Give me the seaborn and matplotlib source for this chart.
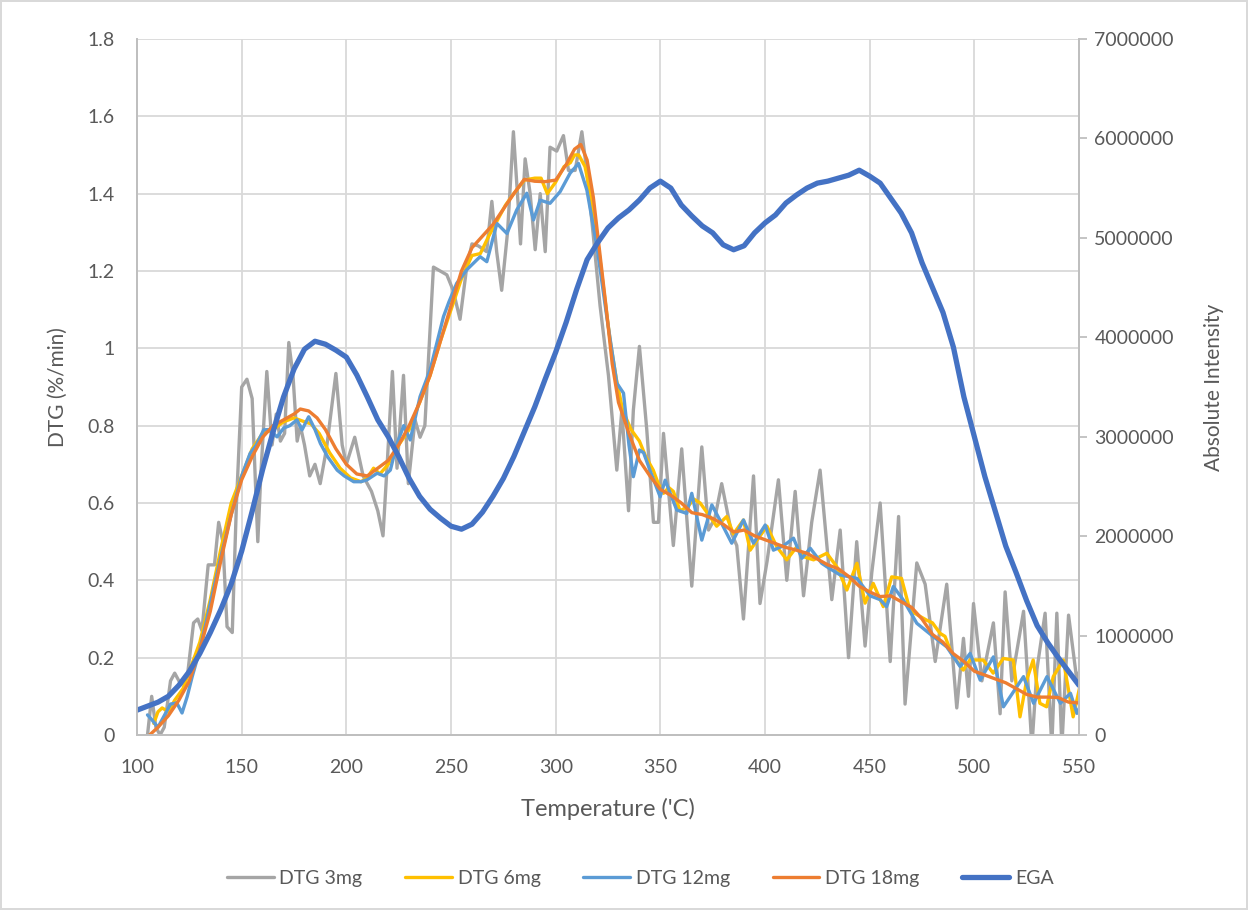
import pandas as pd
import matplotlib.pyplot as plt
import seaborn as sns

# ---- data ----
t_3mg = [105, 107, 109, 111, 113, 116, 118, 121, 124, 127, 129, 131, 134, 137, 139, 141, 143, 145.5, 147.5,
         150, 152.5, 155, 156.5, 157.7, 159.2, 162, 164.5, 166.5, 168.5, 170.5, 172.5, 174.5, 176.5, 178, 180,
         182.5, 185, 187.5, 190.5, 195, 198, 200, 204, 208, 212, 215, 217.5, 219.5, 222, 224.2, 227.3, 229.6,
         232.8, 235.2, 237.5, 239.5, 241.6, 244.8, 248, 251, 254.3, 257.5, 260, 263, 267, 269.5, 271.8, 274.2,
         277, 279.8, 282.2, 283.2, 285.4, 287.8, 290.2, 292.6, 295, 297.3, 300.5, 303.7, 306.1, 309.3, 312.5,
         314.8, 318, 321.2, 325.2, 329.2, 331.6, 334.8, 337.1, 340, 343.5, 346.7, 349.1, 351.5, 356.2, 360.2,
         365, 369.8, 373, 376, 379.3, 384.1, 386.5, 389.7, 394.5, 397.6, 401, 406.4, 410.4, 414.4, 418.4,
         422.3, 426.3, 431.9, 435.9, 439.9, 443.8, 447.8, 451, 455, 459.8, 463.8, 466.9, 472.5, 476.5, 481.3,
         486.8, 491.6, 494.8, 497.2, 499.6, 503.6, 509.1, 512.3, 514.7, 517.9, 523.5, 527.5, 529.9, 533.8,
         537, 539.4, 541.8, 545, 549, 551]
v_3mg = [0.00, 0.10, 0.02, 0.00, 0.02, 0.14, 0.16, 0.13, 0.15, 0.29, 0.30, 0.27, 0.44, 0.44, 0.55, 0.50, 0.28,
         0.265, 0.60, 0.90, 0.92, 0.87, 0.66, 0.50, 0.68, 0.94, 0.75, 0.83, 0.76, 0.78, 1.015, 0.93, 0.76, 0.80,
         0.75, 0.67, 0.70, 0.65, 0.74, 0.935, 0.75, 0.70, 0.77, 0.67, 0.63, 0.58, 0.515, 0.70, 0.94, 0.69, 0.93,
         0.65, 0.815, 0.77, 0.80, 1.00, 1.21, 1.20, 1.19, 1.15, 1.075, 1.21, 1.27, 1.265, 1.25, 1.38, 1.25, 1.15,
         1.30, 1.56, 1.36, 1.27, 1.49, 1.40, 1.255, 1.40, 1.25, 1.52, 1.51, 1.55, 1.46, 1.46, 1.56, 1.46, 1.29,
         1.11, 0.93, 0.685, 0.84, 0.58, 0.84, 1.005, 0.79, 0.55, 0.55, 0.78, 0.49, 0.74, 0.385, 0.745, 0.53,
         0.56, 0.65, 0.52, 0.49, 0.30, 0.67, 0.34, 0.45, 0.66, 0.40, 0.63, 0.36, 0.55, 0.685, 0.35, 0.53, 0.20,
         0.50, 0.23, 0.42, 0.60, 0.19, 0.565, 0.08, 0.445, 0.39, 0.19, 0.39, 0.07, 0.25, 0.10, 0.34, 0.14, 0.29,
         0.055, 0.37, 0.14, 0.32, -0.03, 0.17, 0.315, -0.03, 0.315, -0.03, 0.31, 0.14, 0.18]

t_6mg = [108, 110, 112, 115, 118, 122, 126, 130, 135, 140, 145, 150, 155, 160, 165, 170, 175, 180, 183, 187,
         192, 197, 202, 207, 210, 213, 216, 220, 225, 230, 235, 240, 245, 250, 255, 260, 264, 268, 272, 276,
         280, 285, 290, 293, 296, 300, 304, 307, 309, 311, 314, 317, 320, 323, 326, 329, 332, 336, 340, 343,
         346.6, 349, 351.5, 354, 356.2, 359.4, 363, 366, 369, 373, 376.9, 381.7, 384.9, 389.7, 392.9, 397,
         400.9, 405.6, 410.4, 415.2, 418.4, 423.2, 429.5, 434.3, 439.1, 443.9, 447.8, 451.7, 456.5, 460.5,
         465.2, 469.2, 473, 477.2, 480, 483.6, 486, 489.1, 494.7, 497.9, 504.2, 509, 513.8, 518.6, 521.8, 525,
         528.1, 531.3, 534.5, 537.7, 542.5, 547.2, 550.4]
v_6mg = [0.03, 0.06, 0.07, 0.06, 0.09, 0.12, 0.18, 0.24, 0.35, 0.48, 0.60, 0.67, 0.74, 0.78, 0.79, 0.81, 0.82,
         0.81, 0.805, 0.78, 0.73, 0.69, 0.665, 0.655, 0.665, 0.69, 0.675, 0.70, 0.75, 0.79, 0.86, 0.93, 1.02,
         1.10, 1.18, 1.24, 1.245, 1.29, 1.33, 1.37, 1.40, 1.435, 1.44, 1.44, 1.40, 1.43, 1.47, 1.48, 1.50, 1.50,
         1.47, 1.39, 1.28, 1.15, 1.02, 0.92, 0.84, 0.79, 0.76, 0.72, 0.685, 0.65, 0.625, 0.64, 0.63, 0.58, 0.59,
         0.61, 0.60, 0.57, 0.54, 0.565, 0.52, 0.556, 0.478, 0.51, 0.54, 0.487, 0.453, 0.487, 0.461, 0.453,
         0.47, 0.435, 0.375, 0.444, 0.341, 0.392, 0.332, 0.409, 0.405, 0.323, 0.31, 0.297, 0.29, 0.263, 0.255,
         0.211, 0.168, 0.194, 0.194, 0.160, 0.198, 0.194, 0.047, 0.142, 0.194, 0.082, 0.073, 0.151, 0.194,
         0.047, 0.125]

t_12mg = [105, 107, 110, 113, 116, 119, 121.5, 124, 126.3, 130, 135, 140, 145, 150, 154, 157, 160.5, 163,
          166.9, 170.1, 173, 176.4, 178.8, 182, 185, 187.6, 191, 195.6, 199, 203.5, 207, 209.9, 214.7, 218, 221,
          224, 227.4, 230.5, 235.2, 240, 246.4, 249, 252.7, 257.5, 263.9, 267.1, 271.9, 276.7, 281.4, 286.2,
          289.4, 292.6, 297.3, 302.1, 306.9, 310.9, 314.9, 319.7, 324.4, 329.2, 332.4, 335, 337.1, 340, 342,
          345, 349.9, 352.3, 357.8, 362.6, 365, 369.8, 374.6, 379, 384.1, 389.7, 394.5, 400.1, 404, 409, 413.6,
          417.6, 421.6, 427.1, 431, 435.9, 443.9, 450.2, 455, 458.1, 461.3, 466.1, 472.5, 480.5, 486.8, 493.2,
          498, 502.8, 509.1, 513.9, 520.3, 523.5, 528.3, 534.7, 541.1, 545.9, 549, 551]
v_12mg = [0.052, 0.04, 0.02, 0.05, 0.08, 0.083, 0.057, 0.10, 0.15, 0.22, 0.34, 0.46, 0.57, 0.67, 0.728, 0.75,
          0.789, 0.79, 0.771, 0.794, 0.80, 0.815, 0.789, 0.823, 0.79, 0.754, 0.72, 0.685, 0.67, 0.655, 0.655,
          0.66, 0.677, 0.67, 0.685, 0.75, 0.80, 0.763, 0.875, 0.944, 1.082, 1.12, 1.168, 1.203, 1.237, 1.224,
          1.323, 1.297, 1.358, 1.401, 1.332, 1.383, 1.375, 1.405, 1.453, 1.478, 1.409, 1.263, 1.082, 0.91,
          0.884, 0.75, 0.668, 0.737, 0.73, 0.685, 0.616, 0.659, 0.582, 0.573, 0.625, 0.504, 0.595, 0.55, 0.496,
          0.556, 0.496, 0.543, 0.478, 0.49, 0.509, 0.457, 0.483, 0.444, 0.43, 0.414, 0.405, 0.36, 0.35, 0.332,
          0.384, 0.349, 0.289, 0.254, 0.228, 0.177, 0.211, 0.142, 0.202, 0.073, 0.125, 0.151, 0.082, 0.151,
          0.082, 0.108, 0.056, 0.08]

t_18mg = [106, 110, 115, 120, 125, 130, 135, 140, 145, 150, 155, 160, 165, 170, 175, 178, 182, 186, 190, 195,
          200, 205, 210, 215, 220, 225, 230, 235, 240, 245, 250, 255, 260, 265, 270, 275, 280, 285, 290, 295,
          300, 305, 309, 312, 315, 318, 321, 324, 327, 330, 335, 340, 345, 350, 355, 360, 365, 370, 375, 380,
          385, 390, 395, 400, 405, 410, 415, 420, 425, 430, 435, 440, 445, 450, 455, 460, 465, 470, 475, 480,
          485, 490, 495, 500, 505, 510, 515, 520, 525, 530, 535, 540, 545, 550]
v_18mg = [0.00, 0.02, 0.05, 0.09, 0.14, 0.22, 0.32, 0.45, 0.57, 0.66, 0.72, 0.77, 0.80, 0.815, 0.83, 0.843,
          0.838, 0.82, 0.79, 0.74, 0.70, 0.675, 0.67, 0.69, 0.71, 0.75, 0.80, 0.86, 0.93, 1.02, 1.11, 1.20, 1.26,
          1.29, 1.32, 1.36, 1.40, 1.437, 1.432, 1.431, 1.435, 1.475, 1.515, 1.527, 1.487, 1.39, 1.25, 1.11,
          0.96, 0.86, 0.78, 0.71, 0.67, 0.635, 0.62, 0.60, 0.575, 0.57, 0.56, 0.545, 0.525, 0.53, 0.515, 0.505,
          0.495, 0.485, 0.478, 0.47, 0.455, 0.44, 0.43, 0.41, 0.385, 0.37, 0.358, 0.36, 0.345, 0.33, 0.30, 0.26,
          0.24, 0.21, 0.19, 0.165, 0.155, 0.145, 0.135, 0.12, 0.105, 0.098, 0.098, 0.097, 0.085, 0.083]

t_ega = list(range(100, 555, 5))
v_ega = [0.25, 0.29, 0.33, 0.39, 0.50, 0.64, 0.82, 1.03, 1.26, 1.52, 1.85, 2.25, 2.67, 3.05, 3.40, 3.68, 3.88,
         3.96, 3.93, 3.87, 3.80, 3.62, 3.40, 3.17, 3.00, 2.80, 2.58, 2.40, 2.27, 2.18, 2.10, 2.07, 2.12, 2.24,
         2.40, 2.58, 2.80, 3.05, 3.30, 3.58, 3.85, 4.15, 4.48, 4.78, 4.95, 5.10, 5.20, 5.28, 5.38, 5.50, 5.57,
         5.50, 5.33, 5.22, 5.12, 5.05, 4.93, 4.88, 4.92, 5.05, 5.15, 5.23, 5.35, 5.43, 5.50, 5.55, 5.57, 5.60,
         5.63, 5.68, 5.62, 5.55, 5.40, 5.25, 5.05, 4.75, 4.50, 4.25, 3.90, 3.40, 3.00, 2.60, 2.25, 1.90, 1.63,
         1.35, 1.10, 0.93, 0.78, 0.64, 0.50]  # millions

series = [("DTG 3mg", t_3mg, v_3mg, "#A5A5A5"),
          ("DTG 6mg", t_6mg, v_6mg, "#FFC000"),
          ("DTG 12mg", t_12mg, v_12mg, "#5B9BD5"),
          ("DTG 18mg", t_18mg, v_18mg, "#ED7D31")]

sns.set_theme(style="white")
plt.rcParams['font.family'] = ['Lato', 'DejaVu Sans']
txt = "#595959"
grid = "#D9D9D9"

fig = plt.figure(figsize=(12.48, 9.10), dpi=100, edgecolor=grid, linewidth=1.5)
ax = fig.add_axes([0.1098, 0.1923, 0.7548, 0.7649])
ax2 = ax.twinx()

for name, t, v, col in series:
    df = pd.DataFrame({"T": t, "v": v})
    sns.lineplot(data=df, x="T", y="v", ax=ax, color=col, linewidth=2.4, sort=False, label=name, legend=False)

df_ega = pd.DataFrame({"T": t_ega, "v": [x * 1e6 for x in v_ega]})
sns.lineplot(data=df_ega, x="T", y="v", ax=ax2, color="#4472C4", linewidth=3.8, sort=False, label="EGA", legend=False)

ax.set_xlim(100, 550)
ax.set_ylim(0, 1.8)
ax2.set_ylim(0, 7000000)
ax.set_xticks(range(100, 551, 50))
ax.set_yticks([0, 0.2, 0.4, 0.6, 0.8, 1, 1.2, 1.4, 1.6, 1.8])
ax.set_yticklabels(["0", "0.2", "0.4", "0.6", "0.8", "1", "1.2", "1.4", "1.6", "1.8"])
ax2.set_yticks(range(0, 7000001, 1000000))
ax2.set_yticklabels([str(v) for v in range(0, 7000001, 1000000)])

ax.grid(True, color=grid, linewidth=1.3)
ax.set_axisbelow(True)
for a in (ax, ax2):
    a.spines['top'].set_visible(False)
    for s in ('left', 'right', 'bottom'):
        a.spines[s].set_color("#BFBFBF")
        a.spines[s].set_linewidth(1.3)
ax.tick_params(axis='both', colors=txt, labelsize=14, length=0)
ax.tick_params(axis='x', pad=17)
ax.tick_params(axis='y', pad=16)
ax2.tick_params(axis='y', colors=txt, labelsize=14, length=6, width=1.3, direction='out', pad=5)
ax2.tick_params(axis='y', color="#BFBFBF")

ax.set_xlabel("Temperature ('C)", color=txt, fontsize=17, labelpad=16)
ax.set_ylabel("DTG (%/min)", color=txt, fontsize=15, labelpad=14)
ax2.set_ylabel("Absolute Intensity", color=txt, fontsize=15, labelpad=22)

h1, l1 = ax.get_legend_handles_labels()
h2, l2 = ax2.get_legend_handles_labels()
fig.legend(h1 + h2, l1 + l2, loc='center', bbox_to_anchor=(0.513, 0.035), ncol=5, frameon=False,
           fontsize=14, labelcolor=txt, handlelength=2.4, handletextpad=0.3, columnspacing=2.2)

fig.savefig("out.png", dpi=100, edgecolor=fig.get_edgecolor())
